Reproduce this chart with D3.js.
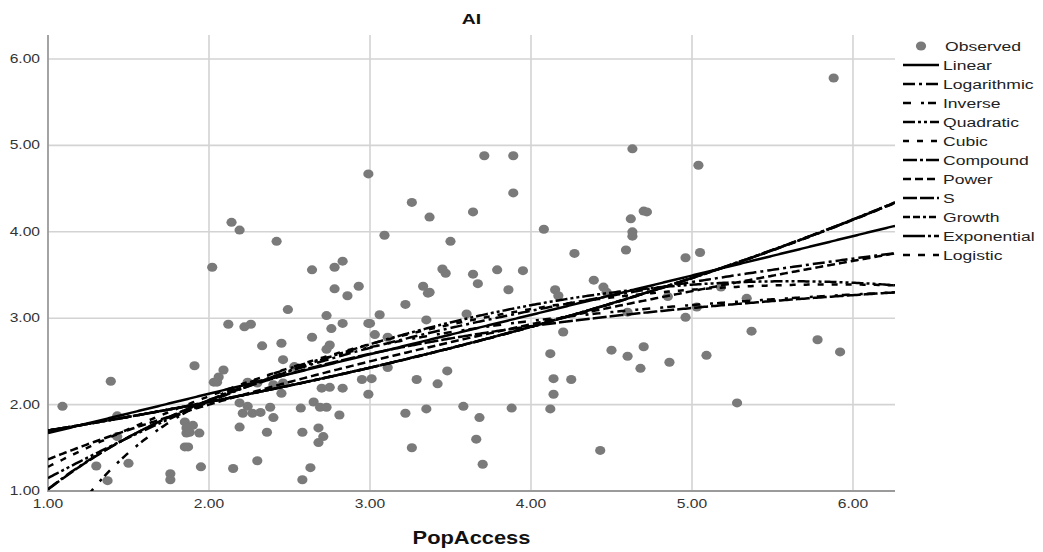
<!DOCTYPE html>
<html>
<head>
<meta charset="utf-8">
<script src="https://cdn.jsdelivr.net/npm/d3@7"></script>
<style>
  html, body { margin: 0; padding: 0; background: #fff; }
  svg { display: block; font-family: "Liberation Sans", Arial, sans-serif; }
</style>
</head>
<body>
<svg id="chart" width="1043" height="552"></svg>
<script>
// ---------------- DATA ----------------
const chartTitle = "AI";
const xLabel = "PopAccess";
const xTicks = [1, 2, 3, 4, 5, 6];
const yTicks = [1, 2, 3, 4, 5, 6];

// Observed points (PopAccess, AI)
const popAccess = [
  1.09,1.39,1.43,1.43,1.30,1.37,1.50,1.76,1.76,1.91,1.85,1.86,1.86,1.88,1.94,1.85,1.87,1.95,1.90,
  2.02,2.14,2.19,2.42,2.03,2.06,2.05,2.09,2.12,2.22,2.26,2.33,2.45,2.46,2.53,2.49,2.19,2.21,2.24,2.27,2.32,2.38,2.40,2.45,2.19,2.30,2.15,2.36,2.24,2.30,2.40,2.46,
  2.64,2.78,2.83,2.78,2.86,2.93,2.73,2.83,2.76,2.99,2.64,2.75,2.73,2.70,2.75,2.83,2.95,2.99,2.57,2.58,2.63,2.58,2.65,2.69,2.73,2.68,2.71,2.68,2.81,2.99,
  3.22,3.35,3.58,3.68,3.88,3.66,3.26,3.70,3.01,3.29,3.42,3.06,3.00,3.03,3.11,3.22,3.35,3.60,3.11,3.48,3.33,3.37,3.36,3.45,3.47,3.64,3.67,3.79,3.95,3.86,3.26,3.37,3.64,3.71,3.89,3.89,3.09,3.50,
  4.08,4.27,4.15,4.17,4.39,4.45,4.47,4.20,4.12,4.14,4.25,4.14,4.12,4.43,4.50,4.60,4.70,4.68,4.86,4.63,4.62,4.70,4.72,4.63,4.63,4.59,4.60,4.85,4.96,4.96,
  5.04,5.05,5.18,5.34,5.03,5.37,5.09,5.78,5.92,5.28,5.88
];
const aiObserved = [
  1.98,2.27,1.87,1.63,1.29,1.12,1.32,1.20,1.13,2.45,1.80,1.73,1.67,1.68,1.67,1.51,1.51,1.28,1.76,
  3.59,4.11,4.02,3.89,2.26,2.32,2.26,2.40,2.93,2.90,2.93,2.68,2.71,2.52,2.44,3.10,2.02,1.90,1.98,1.90,1.91,1.97,1.85,2.13,1.74,1.35,1.26,1.68,2.26,2.25,2.23,2.25,
  3.56,3.59,3.66,3.34,3.26,3.37,3.03,2.94,2.88,2.94,2.78,2.69,2.64,2.19,2.20,2.19,2.29,2.12,1.96,1.68,1.27,1.13,2.03,1.97,1.97,1.73,1.63,1.56,1.88,4.67,
  1.90,1.95,1.98,1.85,1.96,1.60,1.50,1.31,2.30,2.29,2.24,3.04,2.94,2.81,2.78,3.16,2.98,3.05,2.43,2.39,3.37,3.30,3.29,3.57,3.52,3.51,3.40,3.56,3.55,3.33,4.34,4.17,4.23,4.88,4.88,4.45,3.96,3.89,
  4.03,3.75,3.33,3.26,3.44,3.36,3.30,2.84,2.59,2.30,2.29,2.12,1.95,1.47,2.63,2.56,2.67,2.42,2.49,4.96,4.15,4.24,4.23,4.00,3.95,3.79,3.07,3.25,3.70,3.01,
  4.77,3.76,3.36,3.23,3.13,2.85,2.57,2.75,2.61,2.02,5.78
];

// Fitted model coefficients
const linearCoef      = [1.214, 0.456];              // b0 + b1 x
const logCoef         = [1.02, 1.49];                // b0 + b1 ln x
const inverseCoef     = [3.885, -3.664];             // b0 + b1 / x
const quadraticCoef   = [0.053, 1.204, -0.1074];     // b0 + b1 x + b2 x^2
const cubicCoef       = [0.233, 1.1675, -0.1232, 0.002718];
const compoundCoef    = [1.423, 1.195];              // b0 * b1^x
const powerCoef       = [1.365, 0.551];              // b0 * x^b1
const sCoef           = [1.417, -1.399];             // exp(b0 + b1/x)
const growthCoef      = [0.353, 0.178];              // exp(b0 + b1 x)
const exponentialCoef = [1.423, 0.178];              // b0 * exp(b1 x)
const logisticCoef    = [0.703, 0.837];              // 1 / (b0 * b1^x)

const models = [
  {name: "Linear",      f: x => linearCoef[0] + linearCoef[1]*x,                                   dash: null},
  {name: "Logarithmic", f: x => logCoef[0] + logCoef[1]*Math.log(x),                               dash: "12,4,3,4"},
  {name: "Inverse",     f: x => inverseCoef[0] + inverseCoef[1]/x,                                 dash: "8,10,3,4"},
  {name: "Quadratic",   f: x => quadraticCoef[0] + quadraticCoef[1]*x + quadraticCoef[2]*x*x,      dash: "12,3,3,3,3,3"},
  {name: "Cubic",       f: x => cubicCoef[0] + cubicCoef[1]*x + cubicCoef[2]*x*x + cubicCoef[3]*x*x*x, dash: "6,8"},
  {name: "Compound",    f: x => compoundCoef[0] * Math.pow(compoundCoef[1], x),                    dash: "14,3,3,3"},
  {name: "Power",       f: x => powerCoef[0] * Math.pow(x, powerCoef[1]),                          dash: "8,4"},
  {name: "S",           f: x => Math.exp(sCoef[0] + sCoef[1]/x),                                   dash: "14,3"},
  {name: "Growth",      f: x => Math.exp(growthCoef[0] + growthCoef[1]*x),                         dash: "7,3,7,3,3,3"},
  {name: "Exponential", f: x => exponentialCoef[0] * Math.exp(exponentialCoef[1]*x),               dash: "22,3,3,3"},
  {name: "Logistic",    f: x => 1 / (logisticCoef[0] * Math.pow(logisticCoef[1], x)),              dash: "7,8"}
];

// ---------------- LAYOUT ----------------
const svg = d3.select("#chart");
const plot = {left: 48, top: 35, right: 895, bottom: 491};
const SX = 1.25; // horizontal text stretch seen in reference

const x = d3.scaleLinear().domain([1, 6.261]).range([plot.left, plot.right]);
const y = d3.scaleLinear().domain([1, 6.278]).range([plot.bottom, plot.top]);

function stretchedText(g, tx, ty, txt, opts) {
  return g.append("text")
    .attr("transform", `translate(${tx},${ty}) scale(${opts.sx || SX},1)`)
    .attr("text-anchor", opts.anchor || "start")
    .attr("font-size", opts.size)
    .attr("font-weight", opts.weight || "normal")
    .attr("fill", opts.fill || "#222")
    .text(txt);
}

// gridlines
const grid = svg.append("g");
grid.selectAll("line.vg").data(xTicks.filter(d => d > 1)).join("line")
  .attr("x1", d => x(d)).attr("x2", d => x(d))
  .attr("y1", plot.top).attr("y2", plot.bottom)
  .attr("stroke", "#d3d3d3").attr("stroke-width", 1.6);
grid.selectAll("line.hg").data(yTicks.filter(d => d > 1)).join("line")
  .attr("y1", d => y(d)).attr("y2", d => y(d))
  .attr("x1", plot.left).attr("x2", plot.right)
  .attr("stroke", "#d3d3d3").attr("stroke-width", 1.6);

// axes lines
svg.append("line").attr("x1", plot.left).attr("x2", plot.left)
  .attr("y1", plot.top).attr("y2", plot.bottom + 1)
  .attr("stroke", "#9a9a9a").attr("stroke-width", 1.8);
svg.append("line").attr("x1", plot.left).attr("x2", plot.right)
  .attr("y1", plot.bottom).attr("y2", plot.bottom)
  .attr("stroke", "#9a9a9a").attr("stroke-width", 1.8);

// tick labels
const fmt = d3.format(".2f");
const tickG = svg.append("g");
xTicks.forEach(t => stretchedText(tickG, x(t), plot.bottom + 17, fmt(t), {size: 12.5, anchor: "middle", fill: "#333"}));
yTicks.forEach(t => stretchedText(tickG, 40, y(t) + 4, fmt(t), {size: 12.5, anchor: "end", fill: "#333"}));

// title & axis label
stretchedText(svg, (plot.left + plot.right) / 2, 24, chartTitle, {size: 15.5, anchor: "middle", weight: "bold", fill: "#111"});
stretchedText(svg, (plot.left + plot.right) / 2, 544, xLabel, {size: 17.5, anchor: "middle", weight: "bold", fill: "#111"});

// clip
svg.append("defs").append("clipPath").attr("id", "clip")
  .append("rect").attr("x", plot.left).attr("y", plot.top)
  .attr("width", plot.right - plot.left).attr("height", plot.bottom - plot.top);

// points
const pts = popAccess.map((v, i) => [v, aiObserved[i]]);
svg.append("g").selectAll("ellipse").data(pts).join("ellipse")
  .attr("cx", d => x(d[0])).attr("cy", d => y(d[1]))
  .attr("rx", 5.1).attr("ry", 4.5)
  .attr("fill", "#7a7a7a");

// fitted curves
const xs = d3.range(0, 401).map(i => 1 + i * (6.261 - 1) / 400);
const line = d3.line().x(d => x(d[0])).y(d => y(d[1]));
const curveG = svg.append("g").attr("clip-path", "url(#clip)");
models.forEach(m => {
  const data = xs.map(v => [v, m.f(v)]).filter(d => isFinite(d[1]) && d[1] > -5);
  curveG.append("path").datum(data)
    .attr("d", line)
    .attr("fill", "none")
    .attr("stroke", "#000")
    .attr("stroke-width", 2.5)
    .attr("stroke-dasharray", m.dash);
});

// legend
const leg = svg.append("g");
const legX0 = 903, legX1 = 939, legTextX = 943, legY0 = 46, legStep = 19.0;
leg.append("ellipse").attr("cx", 921).attr("cy", legY0).attr("rx", 5.1).attr("ry", 4.5).attr("fill", "#7a7a7a");
stretchedText(leg, legTextX + 2, legY0 + 5, "Observed", {size: 13.5, fill: "#222", sx: 1.3});
models.forEach((m, i) => {
  const yy = legY0 + legStep * (i + 1);
  leg.append("line").attr("x1", legX0).attr("x2", legX1).attr("y1", yy).attr("y2", yy)
    .attr("stroke", "#000").attr("stroke-width", 2.5).attr("stroke-dasharray", m.dash);
  stretchedText(leg, legTextX, yy + 5, m.name, {size: 13.5, fill: "#222", sx: 1.3});
});
</script>
</body>
</html>
